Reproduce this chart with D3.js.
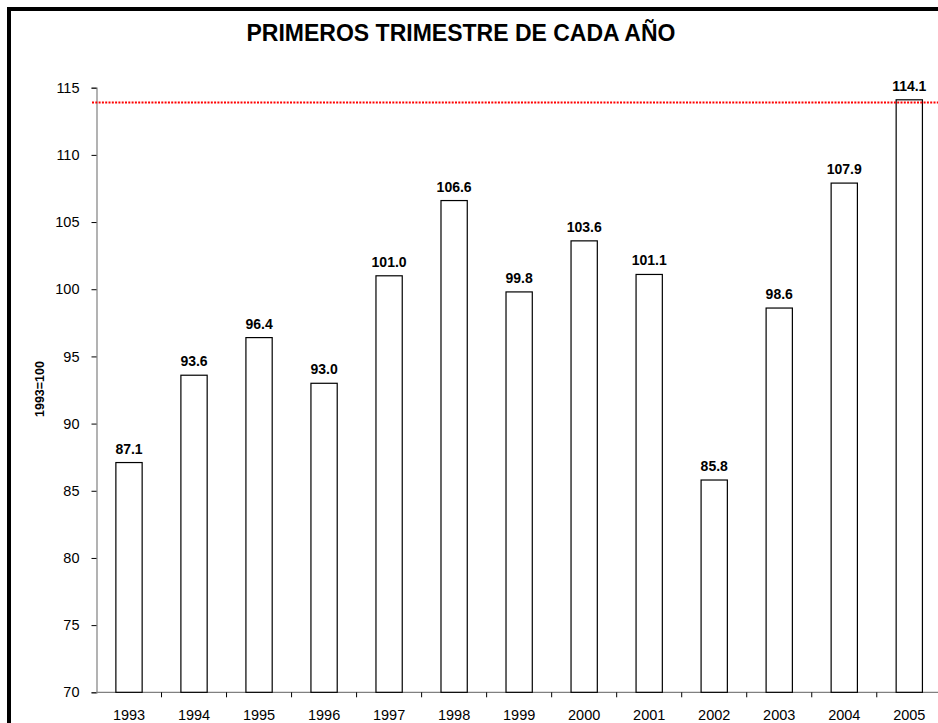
<!DOCTYPE html>
<html>
<head>
<meta charset="utf-8">
<script src="https://cdn.jsdelivr.net/npm/d3@7"></script>
<style>
  body { margin: 0; background: #fff; overflow: hidden; }
  svg { display: block; font-family: Arial, "Liberation Sans", sans-serif; }
</style>
</head>
<body>
<div id="chart"></div>
<script>
var years = ["1993","1994","1995","1996","1997","1998","1999","2000","2001","2002","2003","2004","2005"];
var values = [87.1, 93.6, 96.4, 93.0, 101.0, 106.6, 99.8, 103.6, 101.1, 85.8, 98.6, 107.9, 114.1];
var yTicks = [70, 75, 80, 85, 90, 95, 100, 105, 110, 115];
var refLevel = 113.9;
var chartTitle = "PRIMEROS TRIMESTRE DE CADA AÑO";
var yTitle = "1993=100";

var wid = 938, heig = 723;

var svg = d3.select("#chart").append("svg")
    .attr("width", wid)
    .attr("height", heig);

// outer frame (runs past the window on right and bottom)
svg.append("rect")
    .attr("x", 9).attr("y", 9)
    .attr("width", 960).attr("height", 760)
    .attr("fill", "#fff")
    .attr("stroke", "#000")
    .attr("stroke-width", 4);

var x = d3.scaleBand()
    .domain(years)
    .range([96.5, 941.8])
    .paddingInner(0.596)
    .paddingOuter(0.298);

var y = d3.scaleLinear()
    .domain([70, 115])
    .range([692.3, 87.7]);

// title
svg.append("text")
    .attr("x", 461)
    .attr("y", 41)
    .attr("text-anchor", "middle")
    .style("font-size", "23px")
    .style("font-weight", "bold")
    .text(chartTitle);

// y axis
var yAxis = svg.append("g")
    .attr("transform", "translate(96.5,0)")
    .call(d3.axisLeft(y).tickValues(yTicks).tickSize(5).tickPadding(12).tickFormat(d3.format("d")));
yAxis.select(".domain").attr("stroke", "#808080").attr("stroke-width", 1.2);
yAxis.selectAll(".tick line").attr("stroke", "#000");
yAxis.selectAll(".tick text")
    .style("font-size", "14.5px")
    .style("font-family", "Arial, 'Liberation Sans', sans-serif")
    .attr("fill", "#000");

// x axis with ticks between categories
var xAxisG = svg.append("g")
    .attr("transform", "translate(0," + y(70) + ")");
xAxisG.append("line")
    .attr("x1", 96.5).attr("x2", 941.8)
    .attr("y1", 0).attr("y2", 0)
    .attr("stroke", "#808080").attr("stroke-width", 1.2);
xAxisG.selectAll("line.sep")
    .data(years)
    .enter().append("line")
    .attr("class", "sep")
    .attr("x1", function(d) { return x(d) + x.bandwidth() + x.step() * 0.298; })
    .attr("x2", function(d) { return x(d) + x.bandwidth() + x.step() * 0.298; })
    .attr("y1", 0).attr("y2", 5)
    .attr("stroke", "#000");
xAxisG.selectAll("text.yr")
    .data(years)
    .enter().append("text")
    .attr("class", "yr")
    .attr("x", function(d) { return x(d) + x.bandwidth() / 2; })
    .attr("y", 28)
    .attr("text-anchor", "middle")
    .style("font-size", "14.5px")
    .text(function(d) { return d; });

// y axis title
svg.append("text")
    .attr("transform", "translate(44,389) rotate(-90)")
    .attr("text-anchor", "middle")
    .style("font-size", "12.5px")
    .style("font-weight", "bold")
    .text(yTitle);

// bars
var bars = svg.selectAll("g.bar")
    .data(values)
    .enter().append("g")
    .attr("class", "bar");

bars.append("rect")
    .attr("x", function(d, i) { return x(years[i]); })
    .attr("y", function(d) { return y(d); })
    .attr("width", x.bandwidth())
    .attr("height", function(d) { return y(70) - y(d); })
    .attr("fill", "#fff")
    .attr("stroke", "#000")
    .attr("stroke-width", 1.2);

bars.append("text")
    .attr("x", function(d, i) { return x(years[i]) + x.bandwidth() / 2; })
    .attr("y", function(d) { return y(d) - 9; })
    .attr("text-anchor", "middle")
    .style("font-size", "14px")
    .style("font-weight", "bold")
    .text(function(d) { return d.toFixed(1); });

// red dotted reference line
svg.append("line")
    .attr("x1", 92).attr("x2", 945)
    .attr("y1", y(refLevel)).attr("y2", y(refLevel))
    .attr("stroke", "#ff0000")
    .attr("stroke-width", 1.8)
    .attr("stroke-dasharray", "2,1.3");
</script>
</body>
</html>
